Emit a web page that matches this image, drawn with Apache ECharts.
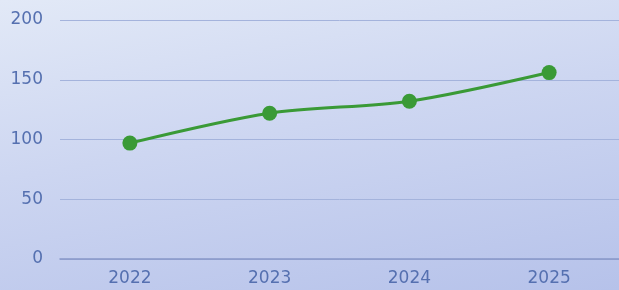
<!DOCTYPE html>
<html>
<head>
<meta charset="utf-8">
<script src="https://cdn.jsdelivr.net/npm/echarts@6/dist/echarts.min.js"></script>
<style>
  html, body { margin: 0; padding: 0; }
  #chart_main {
    width: 619px; height: 290px;
    background: linear-gradient(170deg, #e2e9f7 0%, #cdd6f1 45%, #b6c2ea 100%);
  }
</style>
</head>
<body>
<div id="chart_main"></div>
<script>
  const years = ['2022', '2023', '2024', '2025']
  const values = [97, 122, 132, 156]
  const yTicks = [0, 50, 100, 150, 200]

  let chart = echarts.init(document.getElementById('chart_main'))
  let options = {
    backgroundColor: 'transparent',
    grid: {
      left: 60,
      right: -1,
      top: 20,
      bottom: 31
    },
    xAxis: {
      type: 'category',
      data: years,
      axisLine: { lineStyle: { color: '#8797c8', width: 1.5 } },
      axisTick: { show: false },
      axisLabel: {
        color: '#5570b0',
        fontSize: 17,
        fontFamily: 'DejaVu Sans',
        margin: 11
      }
    },
    yAxis: {
      type: 'value',
      min: yTicks[0],
      max: yTicks[yTicks.length - 1],
      interval: 50,
      axisLine: { show: false },
      axisTick: { show: false },
      axisLabel: {
        color: '#5570b0',
        fontSize: 17,
        fontFamily: 'DejaVu Sans',
        margin: 17
      },
      splitLine: { lineStyle: { color: '#a4b3dc', width: 1 } }
    },
    series: [
      {
        type: 'line',
        data: values,
        smooth: 0.3,
        symbol: 'circle',
        symbolSize: 15,
        itemStyle: { color: '#3a9a36' },
        lineStyle: { color: '#3a9a36', width: 3 }
      }
    ]
  }
  chart.setOption(options)
</script>
</body>
</html>
